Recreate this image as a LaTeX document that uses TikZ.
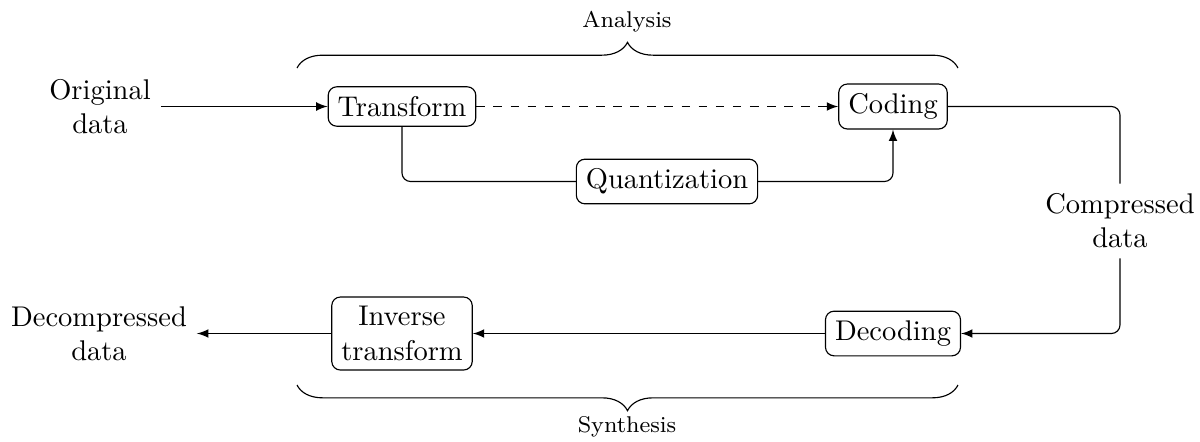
\documentclass[tikz,border=0pt]{standalone}
\usetikzlibrary{decorations.pathreplacing}
\begin{document}
\begin{tikzpicture}[x=0.35088pt,y=-0.35088pt,
  box/.style={draw,rounded corners=3pt,align=center},
  plain/.style={align=center},
  link/.style={-latex,rounded corners=3pt},
  lbl/.style={font=\footnotesize},
  brc/.style={decorate,decoration={brace,amplitude=9pt}}]
\useasboundingbox (0,0) rectangle (1200,441);
% nodes
\node[plain] (orig) at (100,106.5) {Original\\data};
\node[box] (trans) at (402,106.5) {Transform};
\node[box] (cod) at (893,106.5) {Coding};
\node[box] (quant) at (667,181.5) {Quantization};
\node[plain] (comp) at (1120,221) {Compressed\\data};
\node[box] (dec) at (893,333.5) {Decoding};
\node[box] (inv) at (402,333.5) {Inverse\\transform};
\node[plain] (decomp) at (99,333.5) {Decompressed\\data};
% braces and labels
\coordinate (ta) at (297,68);
\coordinate (tb) at (958,68);
\coordinate (ba) at (297,385);
\coordinate (bb) at (958,385);
\draw[brc] (ta) -- (tb);
\draw[brc,decoration={mirror}] (ba) -- (bb);
\node[lbl] (an) at (627,22) {Analysis};
\node[lbl] (syn) at (627,427) {Synthesis};
% connectors
\draw[link] (orig) -- (trans);
\draw[link,dashed] (trans) -- (cod);
\draw[rounded corners=3pt] (trans.south) |- (quant.west);
\draw[link] (quant.east) -| (cod.south);
\draw[rounded corners=3pt] (cod.east) -| (comp.north);
\draw[link] (comp.south) |- (dec.east);
\draw[link] (dec) -- (inv);
\draw[link] (inv) -- (decomp);
\end{tikzpicture}
\end{document}
